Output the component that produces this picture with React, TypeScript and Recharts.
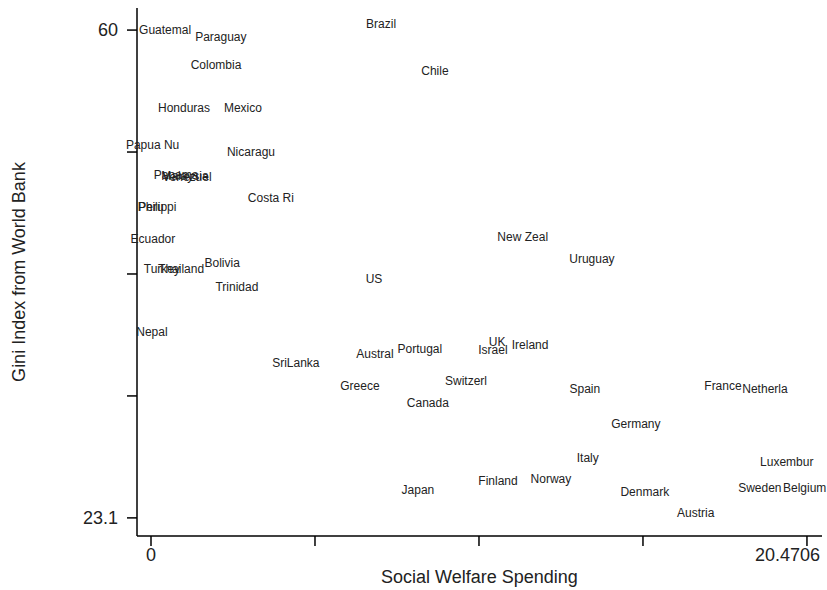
import React from "react";
import { ScatterChart, Scatter, XAxis, YAxis } from "recharts";

// country labels (truncated as in the source graph)
const countries = [
  "Guatemal", "Paraguay", "Brazil", "Colombia", "Chile", "Honduras", "Mexico",
  "Papua Nu", "Nicaragu", "Panama", "Malaysia", "Venezuel", "Costa Ri", "Peru",
  "Philippi", "Ecuador", "New Zeal", "Uruguay", "Turkey", "Thailand", "Bolivia",
  "Trinidad", "US", "Nepal", "SriLanka", "Austral", "Portugal", "Greece",
  "Canada", "Switzerl", "Israel", "UK", "Ireland", "Spain", "France", "Netherla",
  "Germany", "Italy", "Luxembur", "Sweden", "Belgium", "Denmark", "Austria",
  "Japan", "Finland", "Norway",
];

const welfare = [
  0.44, 2.18, 7.18, 2.03, 8.86, 1.03, 2.87,
  0.05, 3.12, 0.78, 1.06, 1.12, 3.74, 0.0,
  0.19, 0.06, 11.6, 13.76, 0.34, 0.94, 2.22,
  2.68, 6.96, 0.03, 4.52, 6.99, 8.39, 6.52,
  8.64, 9.83, 10.67, 10.8, 11.83, 13.54, 17.85, 19.16,
  15.13, 13.63, 19.84, 19.0, 20.4, 15.41, 17.0,
  8.33, 10.83, 12.48,
];

const gini = [
  60.0, 59.5, 60.45, 57.4, 56.95, 54.15, 54.15,
  51.35, 50.8, 49.07, 49.0, 48.9, 47.32, 46.64,
  46.64, 44.21, 44.36, 42.7, 41.93, 41.93, 42.38,
  40.6, 41.17, 37.15, 34.87, 35.55, 35.93, 33.1,
  31.83, 33.5, 35.85, 36.46, 36.23, 32.9, 33.1, 32.9,
  30.24, 27.65, 27.35, 25.38, 25.38, 25.07, 23.48,
  25.22, 25.9, 26.06,
];

const xTicks = [0, 5.11765, 10.2353, 15.35295, 20.4706];
const xTickLabels = ["0", "", "", "", "20.4706"];
const yTicks = [23.1, 32.325, 41.55, 50.775, 60];
const yTickLabels = ["23.1", "", "", "", "60"];

const FONT = "'Liberation Sans', Arial, sans-serif";

const XTick = (props: any) => {
  const { x, y, index } = props;
  const label = xTickLabels[index] ?? "";
  if (!label) return null;
  const last = index === xTicks.length - 1;
  return (
    <text
      x={last ? x + 13 : x}
      y={y}
      dy="0.71em"
      textAnchor={last ? "end" : "middle"}
      fontFamily={FONT}
      fontSize={18}
      fill="#222"
    >
      {label}
    </text>
  );
};

const YTick = (props: any) => {
  const { x, y, index } = props;
  const label = yTickLabels[index] ?? "";
  if (!label) return null;
  return (
    <text x={x} y={y} dy="0.355em" textAnchor="end" fontFamily={FONT} fontSize={18} fill="#222">
      {label}
    </text>
  );
};

const CountryLabel = (props: any) => {
  const { cx, cy, payload } = props;
  return (
    <text
      x={cx}
      y={cy}
      dy="0.355em"
      textAnchor="middle"
      fontFamily={FONT}
      fontSize={12}
      fill="#222"
    >
      {payload.name}
    </text>
  );
};

export default function App() {
  const data = countries.map((name, i) => ({ name, x: welfare[i], y: gini[i] }));

  return (
    <div style={{ position: "absolute", left: 0, top: 0, background: "#fff" }}>
      <ScatterChart width={827} height={590} margin={{ top: 8, right: 5, bottom: 0, left: 80 }}>
        <XAxis
          type="number"
          dataKey="x"
          domain={[-0.437, 20.94]}
          ticks={xTicks}
          interval={0}
          height={54}
          tickSize={10}
          tickMargin={2}
          stroke="#000"
          strokeWidth={1.5}
          tick={<XTick />}
          label={(p: any) => {
            const vb = p.viewBox;
            return (
              <text
                x={vb.x + vb.width / 2}
                y={578}
                textAnchor="middle"
                dominantBaseline="middle"
                fontFamily={FONT}
                fontSize={18}
                fill="#222"
              >
                Social Welfare Spending
              </text>
            );
          }}
        />
        <YAxis
          type="number"
          dataKey="y"
          domain={[21.73, 61.67]}
          ticks={yTicks}
          interval={0}
          width={57}
          tickSize={10}
          tickMargin={9}
          stroke="#000"
          strokeWidth={1.5}
          tick={<YTick />}
          label={(p: any) => {
            const vb = p.viewBox;
            const cy = vb.y + vb.height / 2;
            return (
              <text
                x={20}
                y={cy}
                transform={`rotate(-90 20 ${cy})`}
                textAnchor="middle"
                dominantBaseline="middle"
                fontFamily={FONT}
                fontSize={18}
                fill="#222"
              >
                Gini Index from World Bank
              </text>
            );
          }}
        />
        <Scatter data={data} shape={<CountryLabel />} isAnimationActive={false} />
      </ScatterChart>
    </div>
  );
}
